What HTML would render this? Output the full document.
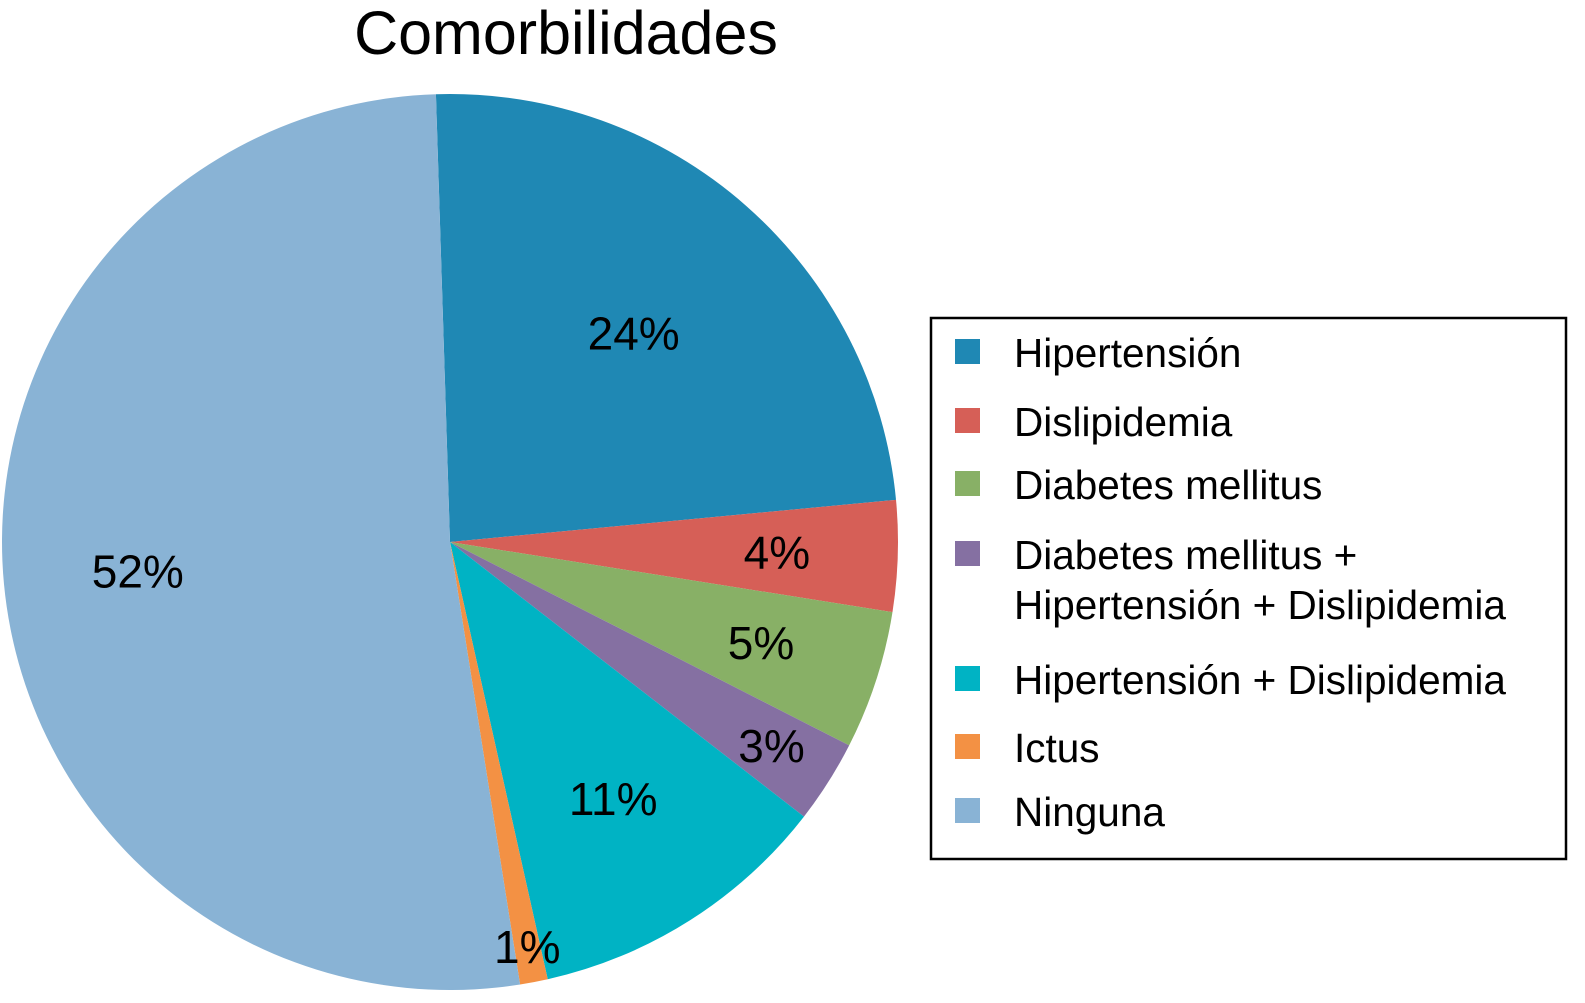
<!DOCTYPE html>
<html><head><meta charset="utf-8">
<style>
body{margin:0;background:#fff;}
svg{display:block;font-family:"Liberation Sans",Arial,sans-serif;}
</style></head>
<body>
<svg id="chart" width="1585" height="1003" viewBox="0 0 1585 1003">
<text x="566" y="54" font-size="61" text-anchor="middle">Comorbilidades</text>
<g id="slices"></g>
<g id="labels"></g>
<g id="legend">
<rect x="931" y="318" width="635" height="541" fill="#fff" stroke="#000" stroke-width="2.5"/>
</g>
</svg>
<script>
const categories = ["Hipertensión","Dislipidemia","Diabetes mellitus","Diabetes mellitus + Hipertensión + Dislipidemia","Hipertensión + Dislipidemia","Ictus","Ninguna"];
const values = [24,4,5,3,11,1,52];
const valueLabels = ["24%","4%","5%","3%","11%","1%","52%"];
const colors = ["#1f88b4","#d65f57","#88b066","#8570a2","#00b3c4","#f39144","#89b3d5"];

const cx=450, cy=542, R=448, startDeg=-1.8;
const ns="http://www.w3.org/2000/svg";
const total=values.reduce((a,b)=>a+b,0);
const sl=document.getElementById('slices'), lb=document.getElementById('labels'), lg=document.getElementById('legend');
function pt(deg,r){const a=deg*Math.PI/180;return [cx+r*Math.sin(a), cy-r*Math.cos(a)];}
function labelR(v){ if(v<=1) return R*0.92; if(v<=3) return R*0.85; if(v<=5) return R*0.73; if(v<20) return R*0.68; if(v<40) return R*0.62; return R*0.7; }
let cur=startDeg;
values.forEach((v,i)=>{
  const sweep=v/total*360, a0=cur, a1=cur+sweep;
  const p0=pt(a0,R), p1=pt(a1,R);
  const path=document.createElementNS(ns,'path');
  path.setAttribute('d',`M${cx},${cy} L${p0[0]},${p0[1]} A${R},${R} 0 ${sweep>180?1:0} 1 ${p1[0]},${p1[1]} Z`);
  path.setAttribute('fill',colors[i]);
  
  
  sl.appendChild(path);
  const mid=(a0+a1)/2;
  const lp=pt(mid, labelR(v));
  const t=document.createElementNS(ns,'text');
  t.setAttribute('x',lp[0]);t.setAttribute('y',lp[1]+16);
  t.setAttribute('font-size','46');t.setAttribute('text-anchor','middle');
  t.textContent=valueLabels[i];
  
  
  lb.appendChild(t);
  cur=a1;
});
const rows=[353,422,485,555,680,748,812];
categories.forEach((c,i)=>{
  const y=rows[i];
  const r=document.createElementNS(ns,'rect');
  r.setAttribute('x',955);r.setAttribute('y',y-14);r.setAttribute('width',25);r.setAttribute('height',25);
  r.setAttribute('fill',colors[i]);
  
  
  lg.appendChild(r);
  const t=document.createElementNS(ns,'text');
  t.setAttribute('x',1014);t.setAttribute('y',y+14);t.setAttribute('font-size','40.5');
  if(i===3){
    t.innerHTML='<tspan x="1014">Diabetes mellitus +</tspan><tspan x="1014" dy="50">Hipertensión + Dislipidemia</tspan>';
  } else t.textContent=c;
  
  
  lg.appendChild(t);
});
</script>
</body></html>
